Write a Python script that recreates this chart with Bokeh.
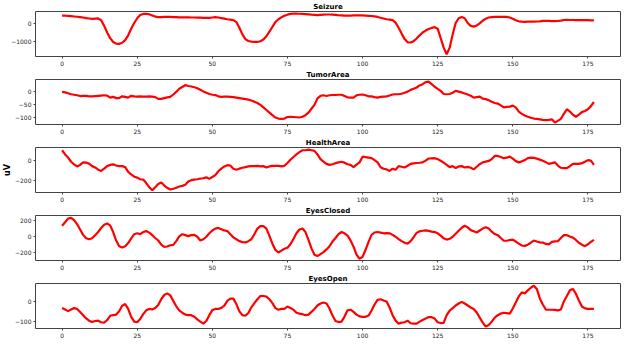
from bokeh.plotting import figure
from bokeh.layouts import column
from bokeh.models import Range1d, FixedTicker, Title
from bokeh.embed import file_html
from bokeh.resources import INLINE

titles = ["Seizure", "TumorArea", "HealthArea", "EyesClosed", "EyesOpen"]

seizure = [390, 385, 375, 360, 345, 330, 310, 290, 260, 240, 220, 230, 240, 150, -150, -500, -800, -1000, -1090, -1100,
           -1040, -900, -650, -300, 0, 250, 420, 480, 490, 460, 400, 340, 310, 310, 320, 330, 320, 310, 310, 300,
           300, 300, 295, 290, 290, 285, 280, 275, 270, 270, 290, 310, 290, 260, 230, 200, 180, 150, 50, -250,
           -600, -850, -950, -980, -1000, -1000, -960, -870, -700, -450, -200, 50, 200, 300, 380, 440, 480, 500, 500, 490,
           480, 470, 460, 440, 430, 420, 430, 440, 450, 450, 440, 430, 410, 400, 390, 390, 395, 400, 400, 400,
           400, 390, 380, 370, 350, 320, 280, 240, 200, 180, 150, 20, -250, -560, -850, -1020, -1030, -960, -820, -650,
           -500, -400, -320, -260, -220, -300, -800, -1300, -1650, -1300, -600, 0, 250, 320, 250, 0, -150, -190, -130, -20,
           120, 230, 290, 310, 320, 320, 320, 320, 320, 290, 230, 150, 90, 70, 65, 70, 70, 75, 80, 90,
           110, 120, 110, 100, 100, 110, 130, 160, 170, 160, 160, 150, 150, 150, 160, 150, 140, 140]

tumor_area = [0, -2, -5, -9, -11, -13, -16, -15, -15, -17, -17, -16, -15, -14, -13, -14, -22, -19, -24, -24,
              -17, -19, -22, -15, -17, -18, -17, -18, -18, -17, -18, -20, -27, -27, -24, -21, -19, -10, 0, 12,
              19, 26, 23, 21, 18, 14, 8, 2, -3, -8, -11, -12, -17, -19, -18, -18, -19, -20, -22, -24,
              -26, -28, -30, -33, -38, -43, -50, -60, -70, -80, -90, -99, -103, -104, -103, -97, -96, -97, -98, -99,
              -96, -90, -80, -65, -50, -25, -15, -13, -16, -13, -12, -12, -11, -11, -16, -21, -22, -22, -13, -11,
              -10, -13, -17, -17, -20, -22, -19, -18, -17, -14, -10, -9, -9, -7, -3, 1, 8, 12, 17, 25,
              30, 38, 40, 30, 20, 12, 4, -8, -9, -8, -3, 4, 1, -2, -6, -10, -15, -22, -20, -18,
              -26, -28, -32, -38, -43, -45, -52, -60, -58, -57, -53, -60, -76, -85, -91, -96, -100, -103, -104, -106,
              -108, -109, -108, -106, -118, -112, -104, -85, -67, -76, -88, -96, -88, -78, -74, -67, -55, -39]

health_area = [97, 56, 25, -16, -41, -62, -47, -22, -25, -34, -59, -72, -94, -106, -84, -59, -47, -41, -53, -59,
               -59, -69, -116, -141, -163, -172, -188, -191, -225, -266, -297, -266, -234, -219, -250, -272, -288, -281, -272, -259,
               -253, -241, -209, -197, -191, -188, -181, -178, -169, -184, -166, -147, -109, -84, -62, -50, -53, -84, -94, -84,
               -75, -69, -62, -59, -59, -56, -62, -59, -72, -62, -56, -56, -56, -62, -56, -28, 3, 31, 56, 78,
               97, 97, 103, 97, 91, 56, 9, -15, -37, -47, -40, -30, -22, -16, -25, -40, -47, -69, -45, -22,
               34, 30, 25, 20, 0, -22, -70, -85, -91, -106, -84, -94, -59, -65, -72, -55, -37, -32, -28, -26,
               -22, -5, 16, 18, 19, 10, -6, -25, -47, -69, -59, -78, -62, -59, -72, -66, -75, -91, -65, -40,
               -22, -15, -8, 10, 41, 41, 30, 19, 25, 34, 15, -10, -22, -12, 0, 20, 25, 22, 15, 5,
               -6, -20, -37, -30, -22, -53, -75, -78, -78, -60, -37, -37, -37, -30, -15, 0, -5, -47]

eyes_closed = [136, 180, 228, 236, 208, 156, 88, 20, -24, -36, -24, 16, 56, 108, 148, 164, 140, 56, -52, -124,
               -140, -124, -84, -24, 28, 40, 28, 56, 68, 48, 16, -20, -52, -104, -132, -128, -112, -108, -60, 0,
               28, 16, 4, 16, 20, -4, -52, -36, -4, 40, 76, 100, 108, 92, 76, 68, 28, -12, -36, -60,
               -72, -76, -60, -36, 28, 100, 132, 132, 100, 8, -92, -172, -204, -180, -156, -144, -100, -32, 40, 88,
               100, 56, -44, -152, -232, -250, -225, -200, -165, -125, -65, -20, 30, 56, 40, 10, -50, -130, -230, -284,
               -260, -170, -70, 20, 50, 56, 48, 40, 42, 40, 20, -4, -35, -60, -80, -92, -60, -10, 45, 65,
               72, 76, 70, 62, 55, 40, 10, -24, -40, -30, -4, 35, 72, 110, 136, 115, 80, 65, 50, 75,
               100, 116, 100, 60, 30, 16, -20, -55, -55, -45, -40, -65, -92, -115, -120, -105, -80, -52, -65, -75,
               -78, -95, -100, -70, -62, -60, -20, 16, 16, 0, -15, -45, -80, -105, -124, -100, -70, -44]

eyes_open = [-33, -40, -48, -40, -33, -37, -52, -68, -84, -95, -102, -97, -95, -103, -105, -92, -71, -68, -65, -49,
             -21, -13, -37, -76, -100, -103, -87, -63, -44, -37, -40, -33, -17, 11, 32, 40, 30, 3, -24, -44,
             -56, -65, -68, -68, -76, -89, -100, -110, -97, -68, -43, -37, -37, -32, -21, 3, 14, 14, -13, -49,
             -68, -71, -57, -29, -8, 11, 27, 27, 24, 11, -8, -33, -41, -37, -37, -25, -32, -41, -56, -60,
             -63, -68, -65, -52, -37, -20, -10, -5, -10, -35, -70, -97, -102, -100, -75, -44, -41, -52, -65, -74,
             -76, -76, -70, -45, -15, 8, 11, 5, 0, -30, -68, -95, -110, -105, -103, -95, -108, -110, -110, -100,
             -92, -85, -77, -78, -85, -103, -107, -106, -68, -45, -33, -20, -10, -2, -10, -20, -30, -37, -55, -80,
             -105, -124, -117, -100, -80, -68, -60, -56, -58, -60, -35, -5, 25, 45, 40, 55, 68, 78, 62, 15,
             -15, -40, -41, -41, -42, -44, -40, 0, 27, 55, 62, 38, 5, -25, -34, -37, -37, -37]

series = [seizure, tumor_area, health_area, eyes_closed, eyes_open]
y_ranges = [(-1768, 608), (-126, 48), (-318, 124), (-306, 266), (-134, 89)]
y_ticks = [[-1000, 0], [-100, -50, 0], [-200, 0], [-200, 0, 200], [-100, 0]]
x_ticks = [0, 25, 50, 75, 100, 125, 150, 175]
y_label = "uV"

FONT = "DejaVu Sans"


def fmt(v):
    return ("\u2212" + str(-v)) if v < 0 else str(v)


figs = []
for i, (title, vals, yr, yt) in enumerate(zip(titles, series, y_ranges, y_ticks)):
    xs = list(range(len(vals)))
    p = figure(width=624, height=68, output_backend="svg", toolbar_location=None,
               x_range=Range1d(-8.85, 185.85), y_range=Range1d(*yr),
               min_border_left=31, min_border_right=4, min_border_top=0, min_border_bottom=0)
    p.title.text = title
    p.title.align = "center"
    p.title.text_font = FONT
    p.title.text_font_size = "7px"
    p.title.text_font_style = "bold"
    p.title.text_color = "#000000"
    p.title.standoff = 1
    p.title.offset = 0
    p.line(xs, vals, color="#ff0000", line_width=2.2)
    p.grid.visible = False
    p.outline_line_color = "#444444"
    p.outline_line_width = 1
    p.background_fill_color = "white"
    p.border_fill_color = "white"
    p.xaxis.ticker = FixedTicker(ticks=x_ticks)
    p.yaxis.ticker = FixedTicker(ticks=yt)
    p.yaxis.major_label_overrides = {v: fmt(v) for v in yt}
    for ax in (p.xaxis[0], p.yaxis[0]):
        ax.axis_line_color = None
        ax.major_tick_out = 2
        ax.major_tick_in = 0
        ax.minor_tick_out = 0
        ax.minor_tick_in = 0
        ax.major_tick_line_color = "#444444"
        ax.major_label_text_font = FONT
        ax.major_label_text_font_size = "6px"
        ax.major_label_text_color = "#222222"
        ax.major_label_standoff = 2
    if i == 2:
        p.add_layout(Title(text=y_label, align="center", text_font=FONT, text_font_size="8px",
                           text_font_style="bold", text_color="#000000", standoff=1, offset=0), "left")
    figs.append(p)

layout = column(*figs, spacing=0)
open("out.html", "w").write(file_html(layout, INLINE))
